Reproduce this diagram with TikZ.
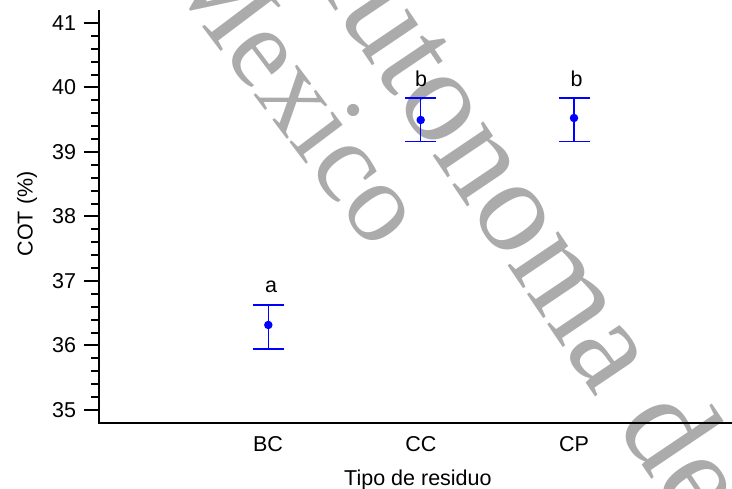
\documentclass[tikz,border=0pt]{standalone}
\usepackage{fontspec}
\setmainfont{Liberation Sans}
\newfontfamily\wmfont{Liberation Serif}
\usetikzlibrary{positioning}
\definecolor{wmgray}{RGB}{171,171,171}
\definecolor{barblue}{RGB}{0,0,255}

\begin{document}
\begin{tikzpicture}[font=\fontsize{21.5}{24}\selectfont,
    axis/.style = {line width=2pt},
    bar/.style = {draw=barblue, line width=1.4pt},
    dot/.style = {circle, fill=barblue, inner sep=0pt, minimum size=8.5pt},
    lbl/.style = {inner sep=0pt, anchor=base},
    wm/.style = {text=wmgray, inner sep=0pt}]
    \useasboundingbox (0pt,0pt) rectangle (732pt,489pt);

    \node[wm, rotate=-53, font=\wmfont\fontsize{115}{115}\selectfont] (W1) at (297pt,399pt) {Mexico};
    \node[wm, rotate=-56, font=\wmfont\fontsize{133}{133}\selectfont] (W2) at (522pt,283pt) {Autonoma de};

    \begin{scope}[shift={(115pt,-2178.5pt)}, x=153pt, y=64.5pt]
    \coordinate (top) at (-0.1046,41.2);
    \coordinate (O) at (-0.1046,34.8);
    \coordinate (xend) at (4.04,34.8);
    \draw[axis] (top) -- (O) -- (xend);

    \foreach \v in {35,...,41}
        \draw[axis] (-0.1046,\v) -- ++(-15pt,0) node[left=7pt, inner sep=0pt] (t\v) {\v};
    \foreach \v in {35,...,40}
        \foreach \f in {0.2,0.4,0.6,0.8}
            \draw[axis] (-0.1046,\v+\f) -- ++(-8pt,0);

    \node[lbl] (xBC) at (1,34.349) {BC};
    \node[lbl] (xCC) at (2,34.349) {CC};
    \node[lbl] (xCP) at (3,34.349) {CP};
    \node[lbl] (xtitle) at (1.98,33.829) {Tipo de residuo};
    \node[lbl, rotate=90] (ytitle) at (-0.539,38.04) {COT (\%)};

    \coordinate (hBC) at (1.002,36.628);
    \coordinate (lBC) at (1.002,35.946);
    \node[dot] (mBC) at (1.002,36.318) {};
    \draw[bar] (hBC) -- (lBC);
    \draw[bar] ([xshift=-15.5pt]hBC) -- ([xshift=15.5pt]hBC);
    \draw[bar] ([xshift=-15.5pt]lBC) -- ([xshift=15.5pt]lBC);
    \node[lbl] (sBC) at (1.02,36.814) {a};

    \coordinate (hCC) at (1.998,39.837);
    \coordinate (lCC) at (1.998,39.16);
    \node[dot] (mCC) at (1.998,39.496) {};
    \draw[bar] (hCC) -- (lCC);
    \draw[bar] ([xshift=-15.5pt]hCC) -- ([xshift=15.5pt]hCC);
    \draw[bar] ([xshift=-15.5pt]lCC) -- ([xshift=15.5pt]lCC);
    \node[lbl] (sCC) at (2,40.008) {b};

    \coordinate (hCP) at (3,39.837);
    \coordinate (lCP) at (3,39.16);
    \node[dot] (mCP) at (3,39.527) {};
    \draw[bar] (hCP) -- (lCP);
    \draw[bar] ([xshift=-15.5pt]hCP) -- ([xshift=15.5pt]hCP);
    \draw[bar] ([xshift=-15.5pt]lCP) -- ([xshift=15.5pt]lCP);
    \node[lbl] (sCP) at (3.017,40.008) {b};
    \end{scope}
\end{tikzpicture}
\end{document}
